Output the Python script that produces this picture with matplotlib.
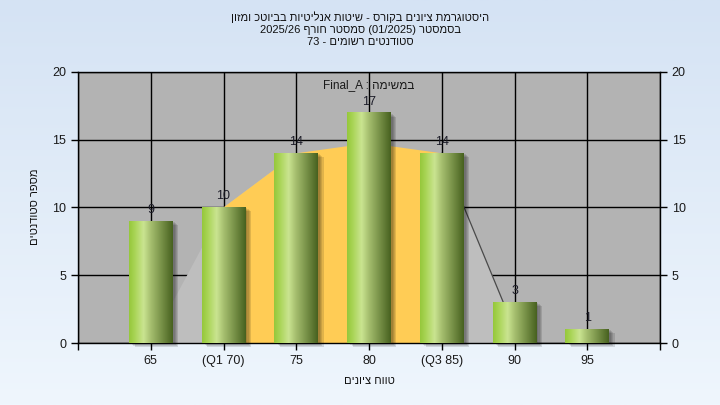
import re
import numpy as np
import matplotlib
matplotlib.use('Agg')
from matplotlib import pyplot as plt
from matplotlib import transforms
from matplotlib.patches import Rectangle, Polygon

plt.rcParams['font.family'] = ['Liberation Sans', 'DejaVu Sans']

# data
grades = [65, 70, 75, 80, 85, 90, 95]
tick_labels = ['65', '(Q1 70)', '75', '80', '(Q3 85)', '90', '95']
counts = [9, 10, 14, 17, 14, 3, 1]
area_x = [65, 70, 75, 80, 85, 90, 91.5]
area_y = [0, 10, 14, 14.5, 14, 1, 0]
curve_x = [70, 75, 80, 85]
curve_y = [10, 14, 14.75, 14]

title_lines = ['היסטוגרמת ציונים בקורס - שיטות אנליטיות בביוטכ ומזון',
               'בסמסטר (01/2025) סמסטר חורף 2025/26',
               'סטודנטים רשומים - 73']
series_label = 'במשימה : Final_A'
xlabel = 'טווח ציונים'
ylabel = 'מספר סטודנטים'


def vis(s):
    """logical hebrew -> visual order (matplotlib has no bidi)"""
    r = s[::-1]
    r = re.sub(r'[0-9A-Za-z_/.]+', lambda m: m.group(0)[::-1], r)
    return r.translate(str.maketrans('()', ')('))


fig = plt.figure(figsize=(7.2, 4.05), dpi=100)

# background gradient
bg = fig.add_axes([0, 0, 1, 1], zorder=-5)
top = np.array([213, 227, 244]) / 255
bot = np.array([239, 246, 253]) / 255
t = np.linspace(0, 1, 200)[:, None]
grad = top[None, None, :] * (1 - t[:, :, None]) + bot[None, None, :] * t[:, :, None]
bg.imshow(grad, aspect='auto', extent=[0, 1, 0, 1])
bg.axis('off')

ax = fig.add_axes([78 / 720, 1 - 343 / 405, 582 / 720, 271 / 405])
ax.set_facecolor('#b3b3b3')
ax.set_axisbelow(True)
ax.grid(True, color='black', linewidth=1)

# gray area + yellow curve
ax.add_patch(Polygon(list(zip(area_x, area_y)), closed=True, facecolor='#bebebe',
                     edgecolor='none', zorder=1.5))
ax.plot(area_x[4:6], area_y[4:6], color='#4a4a4a', lw=0.9, zorder=1.6)
cx = [curve_x[0]] + curve_x + [curve_x[-1]]
cy = [0] + curve_y + [0]
ax.add_patch(Polygon(list(zip(cx, cy)), closed=True, facecolor='#ffcc55',
                     edgecolor='none', zorder=1.7))

# bars with cylinder gradient and soft shadow
w = 3.0
stops = [0, 0.12, 0.33, 0.5, 1.0]
cols = np.array([[150, 200, 60], [168, 212, 84], [202, 228, 145],
                 [165, 190, 110], [72, 98, 32]]) / 255
xs = np.linspace(0, 1, 64)
row = np.stack([np.interp(xs, stops, cols[:, k]) for k in range(3)], axis=1)
img = row[None, :, :]

for x, c in zip(grades, counts):
    for i, a in enumerate([0.10, 0.10, 0.10, 0.12]):
        off = transforms.ScaledTranslation((2 + i * 1.2) / 100, -(1 + i * 1.0) / 100,
                                           fig.dpi_scale_trans)
        ax.add_patch(Rectangle((x - w / 2, 0), w, c, facecolor='black', alpha=a,
                               edgecolor='none', transform=ax.transData + off,
                               zorder=2, clip_on=False))
    ax.imshow(img, extent=[x - w / 2, x + w / 2, 0, c], aspect='auto', zorder=3,
              interpolation='bilinear')
    ax.annotate(str(c), (x, c), xytext=(0, 8), textcoords='offset points',
                ha='center', va='center', fontsize=9, color='#1c1c28', zorder=5)

ax.set_xlim(60, 100)
ax.set_ylim(0, 20)
ax.set_xticks(range(60, 101, 5))
ax.set_xticklabels([''] + tick_labels + [''])
ax.set_yticks(range(0, 21, 5))
ax.tick_params(axis='both', direction='out', length=5, width=1, color='black',
               labelsize=9, labelcolor='#1a1a1a')
ax.tick_params(axis='y', right=True, labelright=True)
for s in ax.spines.values():
    s.set_color('black')
    s.set_linewidth(1)

ax.text(80, 19.05, vis(series_label), ha='center', va='center', fontsize=8.5,
        color='#1a1a1a', zorder=6)

ys = [17, 30, 42]
for line, y in zip(title_lines, ys):
    fig.text(0.5, 1 - y / 405, vis(line), ha='center', va='center', fontsize=8,
             color='#111111')
fig.text(369 / 720, 1 - 381 / 405, vis(xlabel), ha='center', va='center',
         fontsize=8, color='#111111')
fig.text(35 / 720, 1 - 207 / 405, vis(ylabel), ha='center', va='center',
         fontsize=8, color='#111111', rotation=90)

fig.savefig('out.png', dpi=100)
